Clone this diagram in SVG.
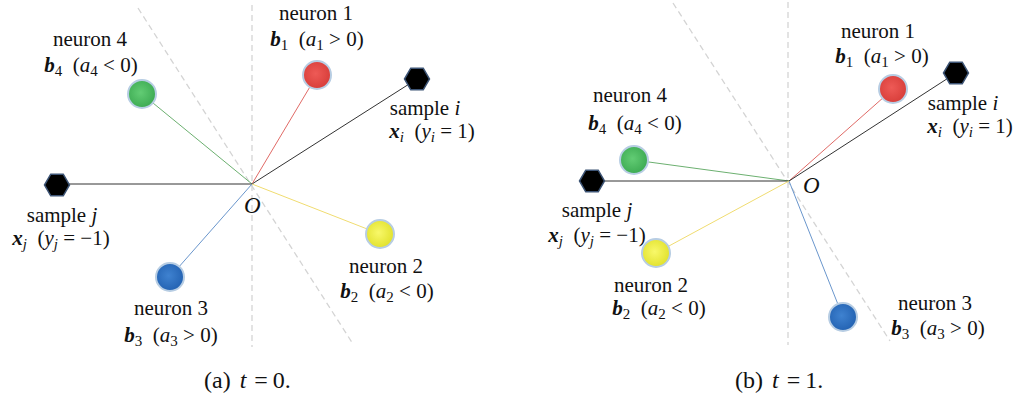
<svg xmlns="http://www.w3.org/2000/svg" width="1020" height="401" viewBox="0 0 1020 401">
<style>
text{font-family:"Liberation Serif","Times New Roman",serif;font-size:21px;fill:#111;white-space:pre}
.c{text-anchor:middle}
.bi{font-weight:bold;font-style:italic}
.it{font-style:italic}
.s{font-size:15px}
.O{font-style:italic;font-size:23px}
.cap{font-size:24px}
.dash{stroke:#d4d4d4;stroke-width:1.3;stroke-dasharray:6 4;fill:none}
.ln{stroke-width:1;fill:none}
.hex{fill:#000;stroke:#3d5475;stroke-width:1.5}
.node{stroke:#b7cde3;stroke-width:2}
</style>
<defs>
<radialGradient id="gG" cx="45%" cy="45%" r="60%"><stop offset="0" stop-color="#62cc74"/><stop offset="1" stop-color="#3aa850"/></radialGradient>
<radialGradient id="gR" cx="45%" cy="45%" r="60%"><stop offset="0" stop-color="#ee5a56"/><stop offset="1" stop-color="#d63c38"/></radialGradient>
<radialGradient id="gY" cx="45%" cy="45%" r="60%"><stop offset="0" stop-color="#f8f86a"/><stop offset="1" stop-color="#e0e028"/></radialGradient>
<radialGradient id="gB" cx="45%" cy="45%" r="60%"><stop offset="0" stop-color="#3f82d0"/><stop offset="1" stop-color="#2160b0"/></radialGradient>
<polygon id="hx" points="-12.5,0 -6.25,-10.8 6.25,-10.8 12.5,0 6.25,10.8 -6.25,10.8"/>
</defs>

<g id="axes">
<line class="dash" x1="252" y1="5" x2="252" y2="347"/>
<line class="dash" x1="138" y1="8" x2="353" y2="344"/>
<line class="dash" x1="788" y1="2" x2="788" y2="345"/>
<line class="dash" x1="673" y1="3" x2="890" y2="341"/>
</g>

<g id="connectors">
<line class="ln" stroke="#6cb070" x1="252" y1="184" x2="142" y2="94"/>
<line class="ln" stroke="#e06a66" x1="252" y1="184" x2="317" y2="75"/>
<line class="ln" stroke="#333" x1="252" y1="184" x2="417" y2="79"/>
<line class="ln" stroke="#333" x1="252" y1="184" x2="57" y2="184"/>
<line class="ln" stroke="#6a96cc" x1="252" y1="184" x2="170" y2="277"/>
<line class="ln" stroke="#f0dc70" x1="252" y1="184" x2="380" y2="234"/>

<line class="ln" stroke="#6cb070" x1="789" y1="181" x2="634" y2="160"/>
<line class="ln" stroke="#e06a66" x1="789" y1="181" x2="893" y2="89"/>
<line class="ln" stroke="#333" x1="789" y1="181" x2="956" y2="73"/>
<line class="ln" stroke="#333" x1="789" y1="181" x2="592" y2="181"/>
<line class="ln" stroke="#6a96cc" x1="789" y1="181" x2="843" y2="317"/>
<line class="ln" stroke="#f0dc70" x1="789" y1="181" x2="656" y2="253"/>
</g>

<!-- panel a -->
<g id="a-origin"><text class="O" x="244" y="213">O</text></g>
<g id="a-neuron1">
<circle class="node" cx="317" cy="75" r="14" fill="url(#gR)"/>
<text class="c" x="316" y="20">neuron 1</text>
<text class="c" x="317" y="46"><tspan class="bi">b</tspan><tspan class="s" dy="4">1</tspan><tspan dy="-4">  (</tspan><tspan class="it">a</tspan><tspan class="s" dy="4">1</tspan><tspan dy="-4"> &gt; 0)</tspan></text>
</g>
<g id="a-neuron4">
<circle class="node" cx="142" cy="94" r="14" fill="url(#gG)"/>
<text class="c" x="90" y="46">neuron 4</text>
<text class="c" x="91" y="72"><tspan class="bi">b</tspan><tspan class="s" dy="4">4</tspan><tspan dy="-4">  (</tspan><tspan class="it">a</tspan><tspan class="s" dy="4">4</tspan><tspan dy="-4"> &lt; 0)</tspan></text>
</g>
<g id="a-samplei">
<use href="#hx" class="hex" x="417" y="79"/>
<text class="c" x="425" y="115">sample <tspan class="it">i</tspan></text>
<text class="c" x="432" y="138"><tspan class="bi">x</tspan><tspan class="s it" dy="4">i</tspan><tspan dy="-4">  (</tspan><tspan class="it">y</tspan><tspan class="s it" dy="4">i</tspan><tspan dy="-4"> = 1)</tspan></text>
</g>
<g id="a-samplej">
<use href="#hx" class="hex" x="57" y="185"/>
<text class="c" x="62" y="222">sample <tspan class="it">j</tspan></text>
<text class="c" x="61" y="245"><tspan class="bi">x</tspan><tspan class="s it" dy="4">j</tspan><tspan dy="-4">  (</tspan><tspan class="it">y</tspan><tspan class="s it" dy="4">j</tspan><tspan dy="-4"> = −1)</tspan></text>
</g>
<g id="a-neuron3">
<circle class="node" cx="170" cy="277" r="14" fill="url(#gB)"/>
<text class="c" x="171" y="315">neuron 3</text>
<text class="c" x="171" y="342"><tspan class="bi">b</tspan><tspan class="s" dy="4">3</tspan><tspan dy="-4">  (</tspan><tspan class="it">a</tspan><tspan class="s" dy="4">3</tspan><tspan dy="-4"> &gt; 0)</tspan></text>
</g>
<g id="a-neuron2">
<circle class="node" cx="380" cy="234" r="14" fill="url(#gY)"/>
<text class="c" x="386" y="273">neuron 2</text>
<text class="c" x="387" y="298"><tspan class="bi">b</tspan><tspan class="s" dy="4">2</tspan><tspan dy="-4">  (</tspan><tspan class="it">a</tspan><tspan class="s" dy="4">2</tspan><tspan dy="-4"> &lt; 0)</tspan></text>
</g>
<g id="a-caption"><text class="cap" x="204" y="388">(a)<tspan class="it" dx="9">t</tspan><tspan dx="8">=</tspan><tspan dx="5">0.</tspan></text></g>

<!-- panel b -->
<g id="b-origin"><text class="O" x="803" y="193">O</text></g>
<g id="b-neuron1">
<circle class="node" cx="893" cy="89" r="14" fill="url(#gR)"/>
<text class="c" x="878" y="38">neuron 1</text>
<text class="c" x="882" y="63"><tspan class="bi">b</tspan><tspan class="s" dy="4">1</tspan><tspan dy="-4">  (</tspan><tspan class="it">a</tspan><tspan class="s" dy="4">1</tspan><tspan dy="-4"> &gt; 0)</tspan></text>
</g>
<g id="b-samplei">
<use href="#hx" class="hex" x="956" y="73"/>
<text class="c" x="963" y="110">sample <tspan class="it">i</tspan></text>
<text class="c" x="970" y="133"><tspan class="bi">x</tspan><tspan class="s it" dy="4">i</tspan><tspan dy="-4">  (</tspan><tspan class="it">y</tspan><tspan class="s it" dy="4">i</tspan><tspan dy="-4"> = 1)</tspan></text>
</g>
<g id="b-neuron4">
<circle class="node" cx="634" cy="160" r="14" fill="url(#gG)"/>
<text class="c" x="630" y="102">neuron 4</text>
<text class="c" x="635" y="130"><tspan class="bi">b</tspan><tspan class="s" dy="4">4</tspan><tspan dy="-4">  (</tspan><tspan class="it">a</tspan><tspan class="s" dy="4">4</tspan><tspan dy="-4"> &lt; 0)</tspan></text>
</g>
<g id="b-samplej">
<use href="#hx" class="hex" x="592" y="181"/>
<text class="c" x="597" y="217">sample <tspan class="it">j</tspan></text>
<text class="c" x="597" y="242"><tspan class="bi">x</tspan><tspan class="s it" dy="4">j</tspan><tspan dy="-4">  (</tspan><tspan class="it">y</tspan><tspan class="s it" dy="4">j</tspan><tspan dy="-4"> = −1)</tspan></text>
</g>
<g id="b-neuron2">
<circle class="node" cx="656" cy="253" r="14" fill="url(#gY)"/>
<text class="c" x="651" y="292">neuron 2</text>
<text class="c" x="659" y="315"><tspan class="bi">b</tspan><tspan class="s" dy="4">2</tspan><tspan dy="-4">  (</tspan><tspan class="it">a</tspan><tspan class="s" dy="4">2</tspan><tspan dy="-4"> &lt; 0)</tspan></text>
</g>
<g id="b-neuron3">
<circle class="node" cx="843" cy="317" r="14" fill="url(#gB)"/>
<text class="c" x="935" y="310">neuron 3</text>
<text class="c" x="938" y="335"><tspan class="bi">b</tspan><tspan class="s" dy="4">3</tspan><tspan dy="-4">  (</tspan><tspan class="it">a</tspan><tspan class="s" dy="4">3</tspan><tspan dy="-4"> &gt; 0)</tspan></text>
</g>
<g id="b-caption"><text class="cap" x="735" y="388">(b)<tspan class="it" dx="9">t</tspan><tspan dx="8">=</tspan><tspan dx="5">1.</tspan></text></g>
</svg>
